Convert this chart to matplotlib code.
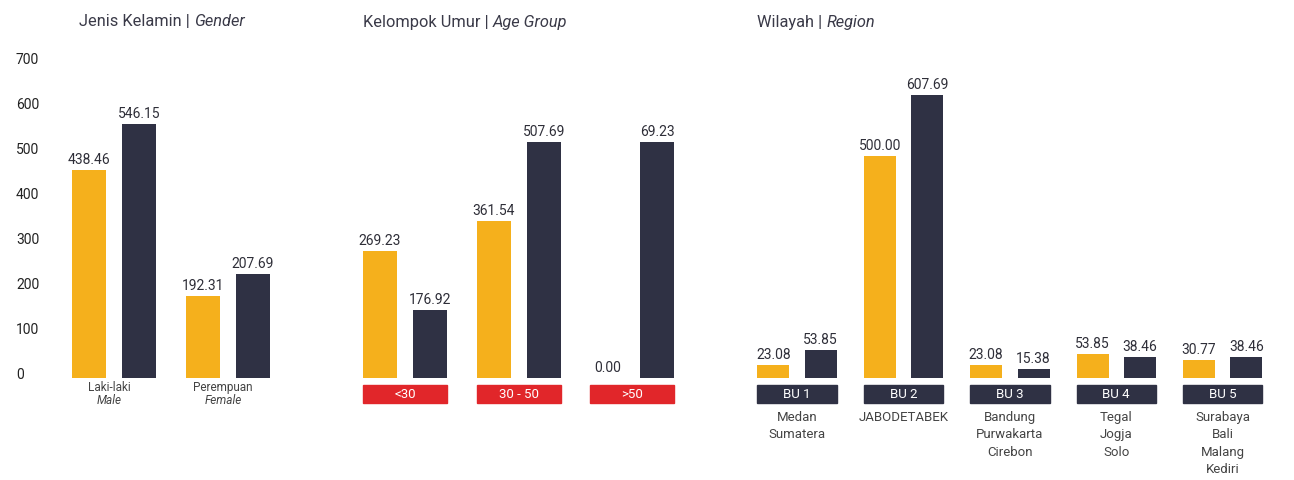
import matplotlib.pyplot as plt
from matplotlib.patches import Rectangle

plt.rcParams['font.family'] = ['Roboto', 'DejaVu Sans']

# data (bar heights, labels as printed)
gender_id = ['Laki-laki', 'Perempuan']
gender_en = ['Male', 'Female']
gender_h1 = [461, 182]
gender_h2 = [563, 230]
gender_l1 = ['438.46', '192.31']
gender_l2 = ['546.15', '207.69']

age_groups = ['<30', '30 - 50', '>50']
age_h1 = [281, 348, 0]
age_h2 = [150, 524, 524]
age_l1 = ['269.23', '361.54', '0.00']
age_l2 = ['176.92', '507.69', '69.23']

regions = ['BU 1', 'BU 2', 'BU 3', 'BU 4', 'BU 5']
region_areas = ['Medan\nSumatera', 'JABODETABEK', 'Bandung\nPurwakarta\nCirebon',
                'Tegal\nJogja\nSolo', 'Surabaya\nBali\nMalang\nKediri']
region_h1 = [28, 493, 28, 53, 39]
region_h2 = [61.5, 628, 19, 45, 45]
region_l1 = ['23.08', '500.00', '23.08', '53.85', '30.77']
region_l2 = ['53.85', '607.69', '15.38', '38.46', '38.46']

yticks = [0, 100, 200, 300, 400, 500, 600, 700]

YELLOW = '#F5B01C'
NAVY = '#2F3144'
RED = '#E1262A'
TXT = '#2E2E38'

W, H = 1294, 481
BASE = 378.7      # pixel row of the baseline
PXU = 0.45        # pixels per unit

fig = plt.figure(figsize=(W / 100, H / 100), dpi=100)


def make_ax(L, R, c0, pitch):
    ax = fig.add_axes([L / W, (H - BASE) / H, (R - L) / W, 700 * PXU / H])
    ax.set_xlim((L - c0) / pitch, (R - c0) / pitch)
    ax.set_ylim(0, 700)
    for s in ax.spines.values():
        s.set_visible(False)
    ax.set_xticks([])
    ax.set_yticks([])
    return ax


def bars(ax, h1, h2, l1, l2, w, off):
    x = range(len(h1))
    b1 = ax.bar([i - off for i in x], h1, width=w, color=YELLOW)
    b2 = ax.bar([i + off for i in x], h2, width=w, color=NAVY)
    for bb, labs in ((b1, l1), (b2, l2)):
        for r, lab in zip(bb, labs):
            ax.annotate(lab, (r.get_x() + r.get_width() / 2, r.get_height()),
                        xytext=(0, 7), textcoords='offset pixels',
                        ha='center', va='baseline', fontsize=10, color=TXT)


def title(x, y, normal, italic):
    t = fig.text(x / W, 1 - y / H, normal, fontsize=11.8, color='#3A3A48',
                 ha='left', va='center')
    a = plt.annotate(italic, xy=(1, 0), xycoords=t, ha='left', va='bottom',
                     fontsize=11.8, color='#3A3A48', style='italic')
    return a


# panel 1: gender
ax1 = make_ax(60, 300, 114, 114)
bars(ax1, gender_h1, gender_h2, gender_l1, gender_l2, 34 / 114, 25 / 114)
ax1.set_yticks(yticks)
ax1.set_yticklabels([str(v) for v in yticks])
ax1.tick_params(axis='y', length=0, pad=31.7, labelsize=10, labelcolor='#222222')
for lab in ax1.get_yticklabels():
    lab.set_horizontalalignment('left')
    lab.set_verticalalignment('baseline')
for i, (a, b) in enumerate(zip(gender_id, gender_en)):
    ax1.annotate(a, (i, 0), xytext=(-5, -9), textcoords='offset pixels',
                 ha='center', va='center', fontsize=8.5, color='#444444',
                 annotation_clip=False)
    ax1.annotate(b, (i, 0), xytext=(-5, -21.5), textcoords='offset pixels',
                 ha='center', va='center', fontsize=8.5, color='#444444',
                 style='italic', annotation_clip=False)

# panel 2: age group
p2 = 113.7
ax2 = make_ax(340, 700, 405, p2)
bars(ax2, age_h1, age_h2, age_l1, age_l2, 34 / p2, 25 / p2)
for i, g in enumerate(age_groups):
    span = (2 * 25 + 34) / p2
    ax2.add_patch(Rectangle((i - span / 2, -55.6), span, 39.4, color=RED,
                            clip_on=False))
    ax2.text(i, -36, g, ha='center', va='center', fontsize=9.5, color='white')

# panel 3: region
p3 = 106.4
ax3 = make_ax(745, 1290, 797, p3)
bars(ax3, region_h1, region_h2, region_l1, region_l2, 32 / p3, 23.7 / p3)
for i, (g, area) in enumerate(zip(regions, region_areas)):
    span = (2 * 23.7 + 32) / p3
    ax3.add_patch(Rectangle((i - span / 2, -55.6), span, 39.4, color=NAVY,
                            clip_on=False))
    ax3.text(i, -36, g, ha='center', va='center', fontsize=9.5, color='white')
    ax3.annotate(area, (i, 0), xytext=(0, -32), textcoords='offset pixels',
                 ha='center', va='top', fontsize=9.5, color='#444444',
                 linespacing=1.45, annotation_clip=False)

# titles
title(79, 22, 'Jenis Kelamin | ', 'Gender')
title(363, 22, 'Kelompok Umur | ', 'Age Group')
title(757, 22, 'Wilayah | ', 'Region')

fig.savefig('out.png', dpi=100)
